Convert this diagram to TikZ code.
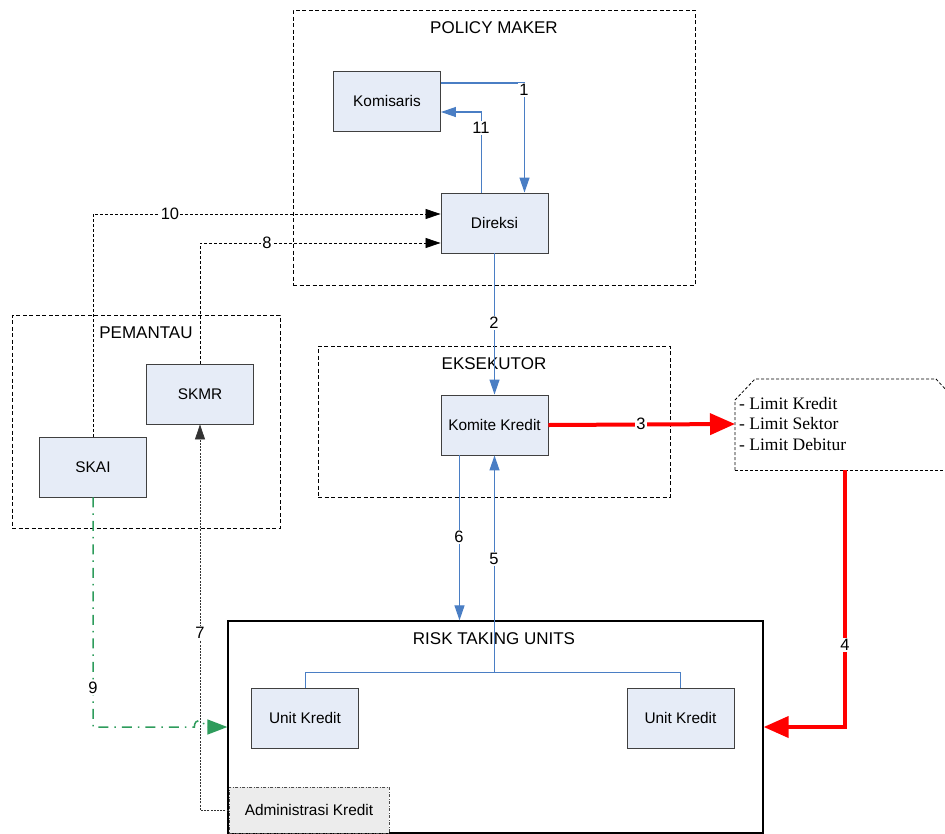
\documentclass[tikz,border=0pt]{standalone}
\usepackage{fontspec}
\setmainfont{Liberation Sans}
\newfontfamily\tms{Liberation Serif}
\usetikzlibrary{arrows.meta}
\definecolor{boxfill}{RGB}{230,236,247}
\definecolor{conblue}{RGB}{74,126,196}
\definecolor{congreen}{RGB}{46,156,92}
\definecolor{admfill}{RGB}{236,236,236}
\begin{document}
\begin{tikzpicture}[x=1pt,y=-1pt,
  box/.style={draw=black!75, fill=boxfill, line width=0.9pt, minimum width=107pt, minimum height=60pt, inner sep=0pt, font=\fontsize{15.4}{17}\selectfont},
  grp/.style={draw=black, dash pattern=on 4pt off 2.5pt, line width=0.8pt, inner sep=0pt},
  ttl/.style={font=\fontsize{17}{19}\selectfont, inner sep=1pt},
  lbl/.style={fill=white, inner sep=1pt, font=\fontsize{16.5}{17}\selectfont},
  bl/.style={draw=conblue, line width=1.2pt, -{Triangle[length=15pt,width=10pt]}},
  rd/.style={draw=red, line width=4pt, -{Triangle[length=25pt,width=21pt]}},
  blk/.style={draw=black, line width=0.8pt, dash pattern=on 3pt off 2pt, -{Triangle[length=15pt,width=10pt]}},
  gr/.style={draw=congreen, line width=1.5pt, dash pattern=on 10pt off 6pt on 1.5pt off 6pt, -{Triangle[length=20pt,width=15pt]}}
]
\useasboundingbox (0,0) rectangle (945,833);

% groups
\node[grp, minimum width=402pt, minimum height=275pt] (pm) at (494,147.5) {};
\node[ttl] (pmt) at (494,28) {POLICY MAKER};
\node[grp, minimum width=352pt, minimum height=151pt] (ek) at (494,421.5) {};
\node[ttl] (ekt) at (494,364) {EKSEKUTOR};
\node[grp, minimum width=268pt, minimum height=213pt] (pe) at (146,421.5) {};
\node[ttl] (pet) at (146,333) {PEMANTAU};
\node[draw=black, fill=white, line width=1.3pt, minimum width=535pt, minimum height=212pt, inner sep=0pt] (rtu) at (495.5,727) {};
\node[ttl] (rtut) at (494,639) {RISK TAKING UNITS};

% limit box
\draw[black, line width=0.8pt, dash pattern=on 3pt off 2pt]
  (735,470) -- (735,400) -- (755,379) -- (936,379) -- (948,392);
\draw[black, line width=0.8pt, dash pattern=on 3pt off 2pt] (735,470) -- (950,470);
\coordinate (limW) at (735,424);
\coordinate (limS) at (845,470);
\node[anchor=west, align=left, inner sep=0pt, font=\tms\fontsize{17.5}{20.5}\selectfont] (limtxt) at (739,424) {- Limit Kredit\\- Limit Sektor\\- Limit Debitur};

% boxes
\node[box] (kom) at (387,101) {Komisaris};
\node[box] (dir) at (494.5,223) {Direksi};
\node[box] (kk) at (494.5,425) {Komite Kredit};
\node[box] (skmr) at (200,394) {SKMR};
\node[box] (skai) at (93,467) {SKAI};
\node[box] (ukl) at (305,718) {Unit Kredit};
\node[box] (ukr) at (680.5,718) {Unit Kredit};

% connectors
\draw[bl] ([yshift=18pt]kom.east) -| ([xshift=30pt]dir.north);
\node[lbl] (l1) at (524,90) {1};
\draw[bl] ([xshift=-13pt]dir.north) |- ([yshift=-11pt]kom.east);
\node[lbl] (l11) at (481,128) {11};
\draw[bl] (dir.south) -- (kk.north);
\node[lbl] (l2) at (494,323) {2};
\draw[rd] (kk.east) -- (limW);
\node[lbl] (l3) at (641,424) {3};
\draw[rd] (limS) |- (rtu.east);
\node[lbl] (l4) at (845,645) {4};
\coordinate (j) at (494.5,672);
\draw[conblue, line width=1pt] (ukl.north) |- (j) -| (ukr.north);
\draw[bl] (j) -- (kk.south);
\node[lbl] (l5) at (494,559) {5};
\draw[bl] ([xshift=-35pt]kk.south) -- ([xshift=-35pt]kk.south |- rtu.north);
\node[lbl] (l6) at (459,537) {6};

\draw[blk] (skai.north) |- ([yshift=9pt]dir.west);
\node[lbl] (l10) at (170,214) {10};
\draw[blk] (skmr.north) |- ([yshift=-20pt]dir.west);
\node[lbl] (l8) at (267,243) {8};

% administrasi kredit
\node[draw=black!70, fill=admfill, line width=0.7pt, dash pattern=on 3pt off 1.5pt on 1pt off 1.5pt, minimum width=160pt, minimum height=46pt, inner sep=0pt, font=\fontsize{15.4}{17}\selectfont] (adm) at (309,810) {Administrasi Kredit};
\draw[draw=black!80, line width=0.8pt, dash pattern=on 2pt off 1.2pt, -{Triangle[length=15pt,width=10pt]}] (adm.west) -| (skmr.south);
\node[lbl] (l7) at (200,633) {7};

\draw[gr] (skai.south) -- (skai.south |- rtu.west) -- ([xshift=-33pt]rtu.west)
  .. controls ([xshift=-33pt,yshift=9pt]rtu.west) and ([xshift=-23pt,yshift=9pt]rtu.west) .. ([xshift=-23pt]rtu.west) -- (rtu.west);
\node[lbl] (l9) at (93,688) {9};
\end{tikzpicture}
\end{document}
